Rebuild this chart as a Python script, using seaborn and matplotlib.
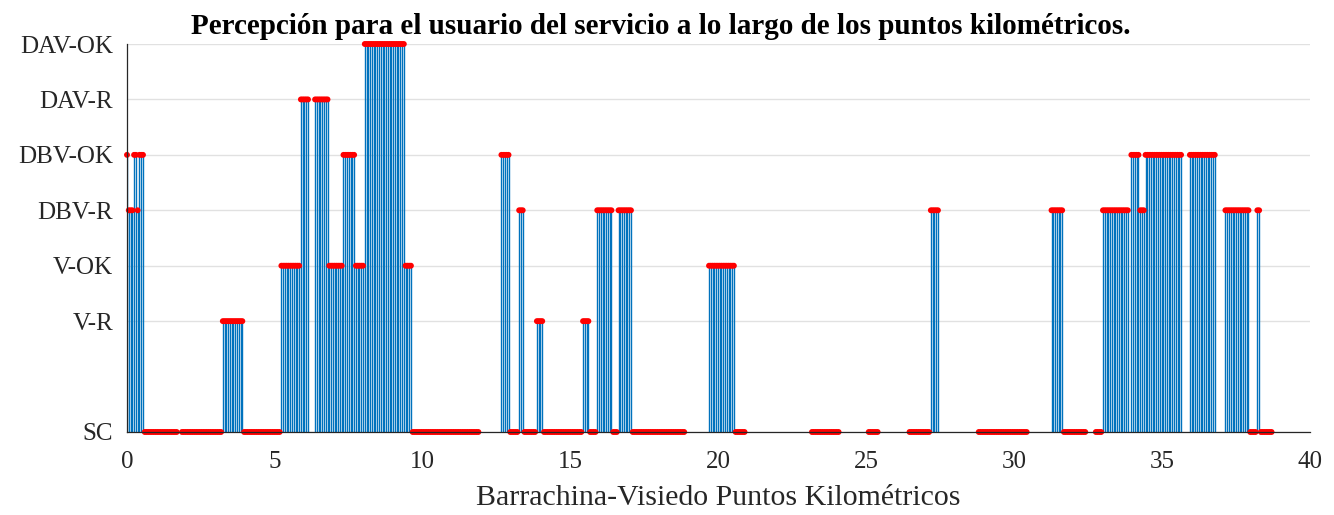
import numpy as np
import pandas as pd
import matplotlib
matplotlib.use("Agg")
import matplotlib.pyplot as plt
import seaborn as sns

# ---- data ----
level_names = ["SC", "V-R", "V-OK", "DBV-R", "DBV-OK", "DAV-R", "DAV-OK"]
level_values = [0, 2, 3, 4, 5, 6, 7]
x_ticks = [0, 5, 10, 15, 20, 25, 30, 35, 40]

# samples every 0.06 km, run-length encoded (label, number of samples); None = no sample
sample_step_km = 0.06
run_labels = [
    "DBV-OK", "DBV-R", "DBV-OK", "DBV-R", "DBV-OK", "SC", None, "SC", "V-R", "SC",
    "V-OK", "DAV-R", None, "DAV-R", "V-OK", "DBV-OK", "V-OK", "DAV-OK", "V-OK", "SC",
    None, "DBV-OK", "SC", "DBV-R", "SC", "V-R", "SC", "V-R", "SC", "DBV-R",
    "SC", "DBV-R", "SC", None, "V-OK", "SC", None, "SC", None, "SC",
    None, "SC", "DBV-R", None, "SC", None, "DBV-R", "SC", None, "SC",
    "DBV-R", None, "DBV-OK", "DBV-R", "DBV-OK", None, "DBV-OK", None, "DBV-R", "SC",
    "DBV-R", "SC",
]
run_counts = [
    1, 3, 2, 1, 3, 19, 2, 23, 12, 21,
    11, 5, 3, 8, 8, 7, 5, 23, 4, 38,
    12, 5, 5, 3, 7, 4, 22, 4, 4, 9,
    3, 8, 30, 13, 15, 6, 37, 16, 16, 6,
    17, 12, 5, 22, 28, 13, 7, 13, 5, 4,
    15, 1, 5, 3, 21, 4, 15, 5, 14, 4,
    2, 7,
]

title_text = "Percepción para el usuario del servicio a lo largo de los puntos kilométricos."
xlabel_text = "Barrachina-Visiedo Puntos Kilométricos"

# ---- expand runs to samples ----
labels = []
for lab, n in zip(run_labels, run_counts):
    labels.extend([lab] * n)
km = np.arange(len(labels)) * sample_step_km
lvl_map = dict(zip(level_names, level_values))
df = pd.DataFrame({"km": km, "label": labels}).dropna()
df["level"] = df["label"].map(lvl_map)

# ---- plot ----
sns.set_theme(style="white")
plt.rcParams["font.family"] = ["Liberation Serif", "DejaVu Serif"]
text_color = "#262626"

fig = plt.figure(figsize=(13.34, 5.15), dpi=100)
ax = fig.add_axes([127 / 1334, (515 - 432) / 515, (1310 - 127) / 1334, (432 - 44) / 515])

ax.vlines(df["km"], 0, df["level"], color="#0072BD", linewidth=1.0, zorder=2)
sns.scatterplot(data=df, x="km", y="level", ax=ax, color="#FF0000", s=18,
                linewidth=0, edgecolor="none", zorder=3, clip_on=False, legend=False)

ax.set_xlim(0, 40)
ax.set_ylim(0, 7)
ax.set_xticks(x_ticks)
ax.set_xticklabels([str(t) for t in x_ticks])
ax.set_yticks(level_values)
ax.set_yticklabels(level_names)

ax.yaxis.grid(True, color="#e1e1e1", linewidth=1.0, zorder=0)
ax.xaxis.grid(False)
ax.set_axisbelow(True)

for s in ["top", "right"]:
    ax.spines[s].set_visible(False)
for s in ["left", "bottom"]:
    ax.spines[s].set_color(text_color)
    ax.spines[s].set_linewidth(0.9)
    ax.spines[s].set_zorder(4)

ax.tick_params(axis="both", direction="in", length=9, width=0.9, color=text_color,
               labelcolor=text_color, labelsize=18)
ax.tick_params(axis="x", pad=14)
ax.tick_params(axis="y", pad=10)

ax.set_xlabel(xlabel_text, fontsize=21.5, color=text_color, labelpad=8)
ax.set_ylabel("")
fig.text(0.495, 1 - 34 / 515, title_text, ha="center", va="baseline", fontsize=21,
         fontweight="bold", color="black")

fig.savefig("out.png", dpi=100, facecolor="white")
